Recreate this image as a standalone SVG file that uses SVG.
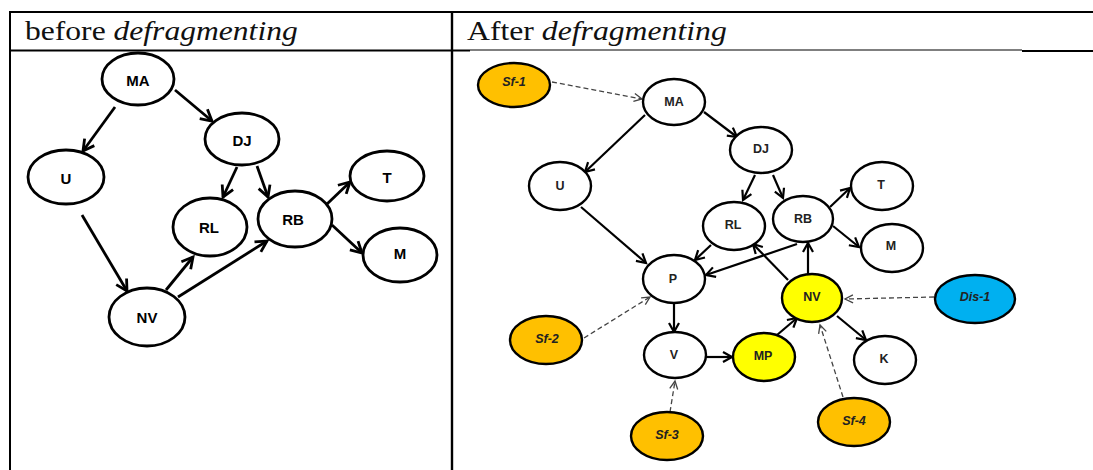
<svg xmlns="http://www.w3.org/2000/svg" width="1093" height="470" viewBox="0 0 1093 470">
<style>
.hdr{font-family:"Liberation Serif","Times New Roman",serif;font-size:27px;fill:#111}
.it{font-style:italic}
.n1{fill:#fff;stroke:#000;stroke-width:2.8}
.n2{fill:#fff;stroke:#000;stroke-width:2.4}
.l1{font-family:"Liberation Sans",Arial,sans-serif;font-weight:bold;font-size:15px;fill:#000;text-anchor:middle;dominant-baseline:central}
.l2{font-family:"Liberation Sans",Arial,sans-serif;font-weight:bold;font-size:12.5px;fill:#222;text-anchor:middle;dominant-baseline:central}
.li{font-style:italic}
.e1{stroke:#000;stroke-width:2.8;fill:none;marker-end:url(#a1)}
.e2{stroke:#000;stroke-width:2.2;fill:none;marker-end:url(#a2)}
.d{stroke:#444;stroke-width:1.3;fill:none;stroke-dasharray:5 3;marker-end:url(#a3)}
.or{fill:#FFC000}
.ye{fill:#FFFF00}
.bl{fill:#00B0F0}
</style>
<defs>
<marker id="a1" markerUnits="userSpaceOnUse" markerWidth="16" markerHeight="16" refX="12" refY="7" orient="auto" viewBox="0 0 16 14">
<path d="M1,1 L12,7 L1,13" fill="none" stroke="#000" stroke-width="2.8" stroke-linejoin="miter"/>
</marker>
<marker id="a2" markerUnits="userSpaceOnUse" markerWidth="14" markerHeight="14" refX="10" refY="6" orient="auto" viewBox="0 0 14 12">
<path d="M1,1 L10,6 L1,11" fill="none" stroke="#000" stroke-width="2.2"/>
</marker>
<marker id="a3" markerUnits="userSpaceOnUse" markerWidth="12" markerHeight="12" refX="9" refY="5" orient="auto" viewBox="0 0 12 10">
<path d="M1,1 L9,5 L1,9" fill="none" stroke="#444" stroke-width="1.3"/>
</marker>
</defs>
<rect width="1093" height="470" fill="#fff"/>
<g id="table" stroke="#000" fill="none">
<line x1="9" y1="12" x2="1093" y2="12" stroke-width="2"/>
<line x1="10" y1="11" x2="10" y2="470" stroke-width="2"/>
<line x1="452" y1="11" x2="452" y2="470" stroke-width="2.4"/>
<line x1="10" y1="50.5" x2="470" y2="50.5" stroke-width="2"/>
<line x1="470" y1="50" x2="1022" y2="50" stroke-width="1.2"/>
<line x1="1022" y1="51" x2="1093" y2="51" stroke-width="2"/>
</g>
<g id="headers">
<text class="hdr" transform="translate(25,39.5) scale(1.17,1)">before <tspan class="it">defragmenting</tspan></text>
<text class="hdr" transform="translate(467,39.5) scale(1.175,1)">After <tspan class="it">defragmenting</tspan></text>
</g>
<g id="connectors-left">
<line class="e1" x1="115" y1="107" x2="83" y2="151"/>
<line class="e1" x1="175" y1="90" x2="212" y2="121"/>
<line class="e1" x1="237" y1="167" x2="223" y2="197"/>
<line class="e1" x1="257" y1="166" x2="268" y2="197"/>
<line class="e1" x1="327" y1="204" x2="350" y2="182"/>
<line class="e1" x1="332" y1="225" x2="362" y2="253"/>
<line class="e1" x1="82" y1="215" x2="127" y2="291"/>
<line class="e1" x1="166" y1="290" x2="193" y2="257"/>
<line class="e1" x1="178" y1="297" x2="267" y2="241"/>
</g>
<g id="left-MA"><ellipse class="n1" cx="138" cy="79" rx="36" ry="26"/><text class="l1" x="138" y="80">MA</text></g>
<g id="left-DJ"><ellipse class="n1" cx="242" cy="139" rx="37" ry="26"/><text class="l1" x="242" y="140">DJ</text></g>
<g id="left-U"><ellipse class="n1" cx="66" cy="177" rx="38" ry="27"/><text class="l1" x="66" y="178">U</text></g>
<g id="left-T"><ellipse class="n1" cx="387" cy="176" rx="37" ry="25"/><text class="l1" x="387" y="177">T</text></g>
<g id="left-RB"><ellipse class="n1" cx="295" cy="219" rx="37" ry="28"/><text class="l1" x="293" y="219">RB</text></g>
<g id="left-RL"><ellipse class="n1" cx="210" cy="227" rx="37" ry="29"/><text class="l1" x="209" y="227">RL</text></g>
<g id="left-M"><ellipse class="n1" cx="400" cy="255" rx="37" ry="27"/><text class="l1" x="400" y="253">M</text></g>
<g id="left-NV"><ellipse class="n1" cx="147" cy="317" rx="38" ry="29"/><text class="l1" x="147" y="317">NV</text></g>
<g id="connectors-right">
<line class="e2" x1="645" y1="115" x2="585" y2="172"/>
<line class="e2" x1="704" y1="112" x2="737" y2="137"/>
<line class="e2" x1="755" y1="175" x2="743" y2="200"/>
<line class="e2" x1="773" y1="175" x2="783" y2="198"/>
<line class="e2" x1="830" y1="207" x2="850" y2="188"/>
<line class="e2" x1="833" y1="226" x2="859" y2="247"/>
<line class="e2" x1="581" y1="207" x2="646" y2="263"/>
<line class="e2" x1="711" y1="245" x2="695" y2="260"/>
<line class="e2" x1="797" y1="244" x2="706" y2="275"/>
<line class="e2" x1="788" y1="280" x2="753" y2="244"/>
<line class="e2" x1="808" y1="277" x2="808" y2="243"/>
<line class="e2" x1="674" y1="304" x2="674" y2="332"/>
<line class="e2" x1="705" y1="357" x2="732" y2="357"/>
<line class="e2" x1="777" y1="335" x2="797" y2="318"/>
<line class="e2" x1="837" y1="316" x2="866" y2="340"/>
<line class="d" x1="552" y1="82" x2="642" y2="99"/>
<line class="d" x1="584" y1="338" x2="650" y2="297"/>
<line class="d" x1="670" y1="412" x2="675" y2="381"/>
<line class="d" x1="934" y1="297" x2="845" y2="299"/>
<line class="d" x1="843" y1="397" x2="820" y2="325"/>
</g>
<g id="Sf-1"><ellipse class="n2 or" cx="514" cy="85" rx="36" ry="22"/><text class="l2 li" x="514" y="82">Sf-1</text></g>
<g id="MA"><ellipse class="n2" cx="674" cy="102" rx="31" ry="23"/><text class="l2" x="674" y="102">MA</text></g>
<g id="DJ"><ellipse class="n2" cx="761" cy="150" rx="31" ry="23"/><text class="l2" x="761" y="149">DJ</text></g>
<g id="U"><ellipse class="n2" cx="560" cy="186" rx="31" ry="24"/><text class="l2" x="560" y="186">U</text></g>
<g id="RL"><ellipse class="n2" cx="734" cy="226" rx="31" ry="24"/><text class="l2" x="733" y="225">RL</text></g>
<g id="RB"><ellipse class="n2" cx="803" cy="219" rx="30" ry="23"/><text class="l2" x="803" y="219">RB</text></g>
<g id="T"><ellipse class="n2" cx="882" cy="186" rx="31" ry="24"/><text class="l2" x="881" y="185">T</text></g>
<g id="M"><ellipse class="n2" cx="892" cy="248" rx="31" ry="24"/><text class="l2" x="891" y="246">M</text></g>
<g id="P"><ellipse class="n2" cx="674" cy="279" rx="31" ry="24"/><text class="l2" x="673" y="279">P</text></g>
<g id="V"><ellipse class="n2" cx="675" cy="355" rx="31" ry="23"/><text class="l2" x="674" y="355">V</text></g>
<g id="MP"><ellipse class="n2 ye" cx="764" cy="357" rx="31" ry="24"/><text class="l2" x="763" y="356">MP</text></g>
<g id="NV"><ellipse class="n2 ye" cx="812" cy="298" rx="30" ry="24"/><text class="l2" x="812" y="297">NV</text></g>
<g id="Dis-1"><ellipse class="n2 bl" cx="975" cy="299" rx="40" ry="24"/><text class="l2 li" x="975" y="297">Dis-1</text></g>
<g id="K"><ellipse class="n2" cx="885" cy="360" rx="31" ry="24"/><text class="l2" x="884" y="359">K</text></g>
<g id="Sf-4"><ellipse class="n2 or" cx="854" cy="422" rx="36" ry="24"/><text class="l2 li" x="854" y="421">Sf-4</text></g>
<g id="Sf-2"><ellipse class="n2 or" cx="546" cy="340" rx="36" ry="24"/><text class="l2 li" x="547" y="339">Sf-2</text></g>
<g id="Sf-3"><ellipse class="n2 or" cx="667" cy="436" rx="36" ry="24"/><text class="l2 li" x="667" y="435">Sf-3</text></g>
</svg>
